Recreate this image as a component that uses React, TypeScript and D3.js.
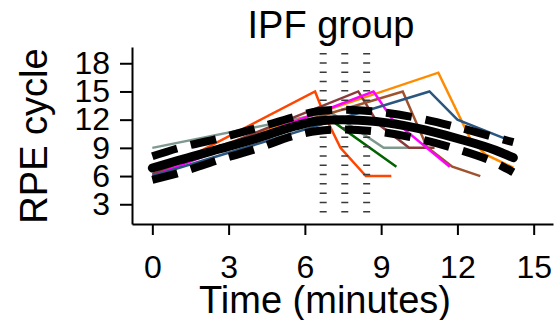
import { useEffect, useRef } from 'react'
import * as d3 from 'd3'

// individual patients: time (min) and RPE
const grayT = [0, 7.0, 9.1, 10.1]
const grayV = [9, 12.8, 9, 9]
const redT = [0, 6.4, 6.75, 7.4, 8.4, 9.4]
const redV = [6, 15, 12.6, 9, 6, 6]
const orangeT = [0, 11.25, 12.5, 13.1, 14.2]
const orangeV = [6.8, 17, 10, 8.3, 6.9]
const maroonT = [0, 8.1, 8.9, 10.1, 11.1]
const maroonV = [6.2, 15, 11.5, 9, 9]
const brownT = [0, 9.85, 10.8, 11.8, 12.9]
const brownV = [7, 15, 9.1, 7, 6]
const magentaT = [0, 8.7, 9.45, 11.7]
const magentaV = [6, 15, 12, 7]
const blueT = [0, 10.9, 12.0, 13.85]
const blueV = [6, 15, 12, 10]
const greenT = [0, 7.0, 9.6]
const greenV = [7, 12, 7]

// group mean and confidence band
const meanT = [0, 1, 2.6, 4.1, 5.6, 6.5, 7.5, 8.8, 10.4, 12, 13.5, 14.2]
const meanV = [6.85, 7.65, 8.85, 10.0, 11.3, 11.85, 12.0, 11.8, 11.1, 10.0, 8.75, 7.95]
const upperV = [8.1, 8.95, 10.0, 11.1, 12.3, 12.9, 13.05, 12.85, 12.2, 11.2, 10.1, 9.6]
const lowerV = [5.6, 6.3, 7.7, 8.9, 10.3, 10.8, 10.95, 10.75, 10.0, 8.85, 7.4, 6.4]

// vertical reference times
const vlines = [6.72, 7.57, 8.43]

const xTicks = [0, 3, 6, 9, 12, 15]
const yTicks = [3, 6, 9, 12, 15, 18]

const series = [
  { t: grayT, v: grayV, color: '#7f998f' },
  { t: redT, v: redV, color: '#ff4500' },
  { t: orangeT, v: orangeV, color: '#ff8c00' },
  { t: maroonT, v: maroonV, color: '#8b3a3a' },
  { t: brownT, v: brownV, color: '#a0522d' },
  { t: magentaT, v: magentaV, color: '#ff00ff' },
  { t: blueT, v: blueV, color: '#2b5680' },
  { t: greenT, v: greenV, color: '#006400' },
]

const FONT = '"Liberation Sans", Arial, sans-serif'

export default function App() {
  const ref = useRef<SVGSVGElement>(null)

  useEffect(() => {
    if (!ref.current) return
    const svg = d3.select(ref.current)
    svg.selectAll('*').remove()

    const x = d3.scaleLinear().domain([-0.8, 15.76]).range([132, 553])
    const y = d3.scaleLinear().domain([0.9, 19.73]).range([224, 47])

    const line = d3.line<[number, number]>()
      .x((d) => x(d[0]))
      .y((d) => y(d[1]))

    series.forEach((s) => {
      svg.append('path')
        .attr('d', line(s.t.map((t, i) => [t, s.v[i]] as [number, number])))
        .attr('fill', 'none')
        .attr('stroke', s.color)
        .attr('stroke-width', 2.5)
    })

    vlines.forEach((t) => {
      svg.append('line')
        .attr('x1', x(t)).attr('x2', x(t))
        .attr('y1', y(19.1)).attr('y2', y(1.9))
        .attr('stroke', '#3a3a3a')
        .attr('stroke-width', 7)
        .attr('stroke-dasharray', '1.5,7.8')
    })

    const smooth = d3.line<[number, number]>()
      .x((d) => x(d[0]))
      .y((d) => y(d[1]))
      .curve(d3.curveMonotoneX)

    ;[upperV, lowerV].forEach((vals) => {
      svg.append('path')
        .attr('d', smooth(meanT.map((t, i) => [t, vals[i]] as [number, number])))
        .attr('fill', 'none')
        .attr('stroke', '#000')
        .attr('stroke-width', 8)
        .attr('stroke-dasharray', '26,14')
    })

    svg.append('path')
      .attr('d', smooth(meanT.map((t, i) => [t, meanV[i]] as [number, number])))
      .attr('fill', 'none')
      .attr('stroke', '#000')
      .attr('stroke-width', 9)
      .attr('stroke-linecap', 'round')

    const xAxis = svg.append('g')
      .attr('transform', 'translate(0, 224)')
      .call(d3.axisBottom(x).tickValues(xTicks).tickSize(11).tickSizeOuter(0).tickPadding(20))
    const yAxis = svg.append('g')
      .attr('transform', 'translate(132, 0)')
      .call(d3.axisLeft(y).tickValues(yTicks).tickSize(12).tickSizeOuter(0).tickPadding(10))

    ;[xAxis, yAxis].forEach((g) => {
      g.selectAll('.domain').attr('stroke', '#000').attr('stroke-width', 2)
      g.selectAll('.tick line').attr('stroke', '#000').attr('stroke-width', 2)
      g.selectAll('text')
        .attr('fill', '#000')
        .style('font-family', FONT)
        .style('font-size', '32px')
    })

    svg.append('text')
      .attr('x', 331).attr('y', 38)
      .attr('text-anchor', 'middle')
      .style('font-family', FONT)
      .style('font-size', '38px')
      .text('IPF group')

    svg.append('text')
      .attr('x', 325).attr('y', 313)
      .attr('text-anchor', 'middle')
      .style('font-family', FONT)
      .style('font-size', '38px')
      .text('Time (minutes)')

    svg.append('text')
      .attr('transform', 'translate(47, 136) rotate(-90)')
      .attr('text-anchor', 'middle')
      .style('font-family', FONT)
      .style('font-size', '38px')
      .text('RPE cycle')
  }, [])

  return (
    <div style={{ position: 'fixed', left: 0, top: 0 }}>
      <svg ref={ref} width={554} height={320} style={{ display: 'block', background: '#fff' }} />
    </div>
  )
}
